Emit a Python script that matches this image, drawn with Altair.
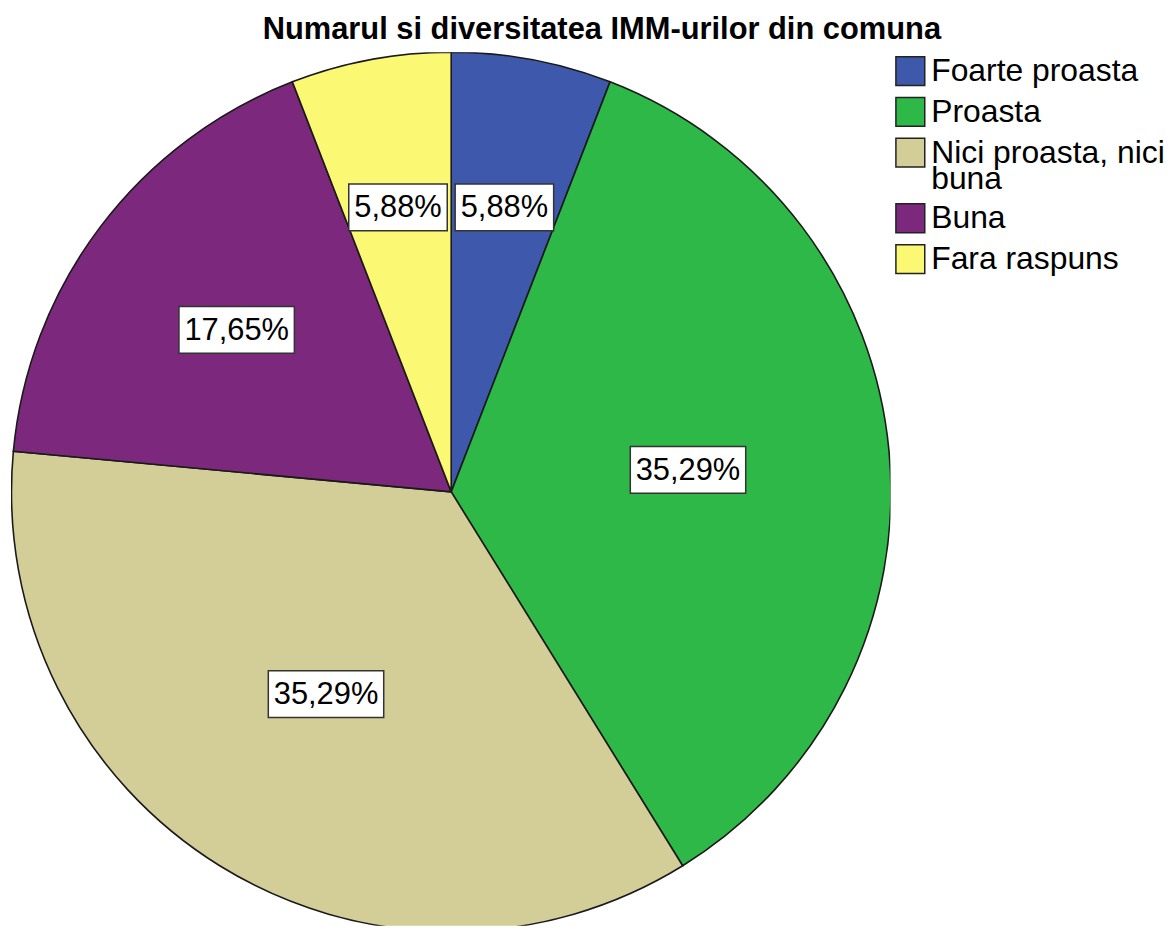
import altair as alt
import pandas as pd

# ---- data ----
categories = ["Foarte proasta", "Proasta", "Nici proasta, nici buna", "Buna", "Fara raspuns"]
counts = [1, 6, 6, 3, 1]
colors = ["#3E58AC", "#2EB848", "#D3CE97", "#7C287D", "#FBF873"]
title_text = "Numarul si diversitatea IMM-urilor din comuna"

df = pd.DataFrame({"cat": categories, "count": counts, "idx": list(range(len(categories)))})

# ---- layout ----
W, H = 884, 878
CX, CY, R = 442.5, 442.0, 442
FONT = "Liberation Sans"

base = alt.Chart(df)

pie = base.mark_arc(outerRadius=R, stroke="#1a1a1a", strokeWidth=1.6, clip=True).encode(
    theta=alt.Theta("count:Q", stack=True),
    order=alt.Order("idx:Q"),
    color=alt.Color(
        "cat:N",
        sort=categories,
        scale=alt.Scale(domain=categories, range=colors),
        legend=alt.Legend(
            title=None,
            orient="none",
            legendX=888,
            legendY=3,
            symbolType="square",
            symbolSize=841,
            symbolStrokeColor="#222222",
            symbolStrokeWidth=1.5,
            labelFont=FONT,
            labelFontSize=32,
            labelColor="#000000",
            labelLimit=400,
            labelOffset=5,
            rowPadding=5,
            padding=0,
            labelExpr="datum.label == 'Nici proasta, nici buna' ? ['Nici proasta, nici', 'buna'] : datum.label",
        ),
    ),
    x=alt.value(CX),
    y=alt.value(CY),
)

lab = base.transform_joinaggregate(total="sum(count)").transform_window(
    cum="sum(count)", sort=[alt.SortField("idx")], frame=[None, 0]
).transform_calculate(
    frac="datum.count / datum.total",
    mid="(datum.cum - datum.count / 2) / datum.total * 2 * PI",
).transform_calculate(
    rr=f"{R} * (0.682 - 0.40 * datum.frac)",
    label="replace(format(datum.frac * 100, '.2f'), '.', ',') + '%'",
).transform_calculate(
    lx=f"{CX} + datum.rr * sin(datum.mid)",
    ly=f"{CY} - datum.rr * cos(datum.mid)",
    hw="length(datum.label) * 8.5 + 7",
).transform_calculate(
    x0="datum.lx - datum.hw",
    x1="datum.lx + datum.hw",
    y0="datum.ly - 23.5",
    y1="datum.ly + 23.5",
)

xs = alt.Scale(domain=[0, W], nice=False, zero=False)
ys = alt.Scale(domain=[0, H], nice=False, zero=False, reverse=True)

boxes = lab.mark_rect(fill="white", stroke="#333333", strokeWidth=1.5).encode(
    x=alt.X("x0:Q", scale=xs, axis=None),
    x2="x1:Q",
    y=alt.Y("y0:Q", scale=ys, axis=None),
    y2="y1:Q",
)

texts = lab.mark_text(font=FONT, fontSize=31, color="#000000", align="center", baseline="middle", dy=1).encode(
    x=alt.X("lx:Q", scale=xs, axis=None),
    y=alt.Y("ly:Q", scale=ys, axis=None),
    text="label:N",
)

chart = alt.layer(pie, boxes, texts).properties(
    width=W,
    height=H,
    autosize=alt.AutoSizeParams(type="none"),
    padding={"left": 3, "top": 42, "right": 278, "bottom": 0},
    title=alt.TitleParams(
        title_text,
        anchor="start",
        frame="group",
        dx=253,
        dy=30,
        font=FONT,
        fontSize=31,
        fontWeight="bold",
        color="#000000",
        baseline="alphabetic",
        offset=12,
    ),
).configure(
    background="white",
    view={"stroke": None},
    style={"guide-label": {"lineHeight": 27}},
)

chart.save("out.html", embed_options={"renderer": "svg", "actions": False})
